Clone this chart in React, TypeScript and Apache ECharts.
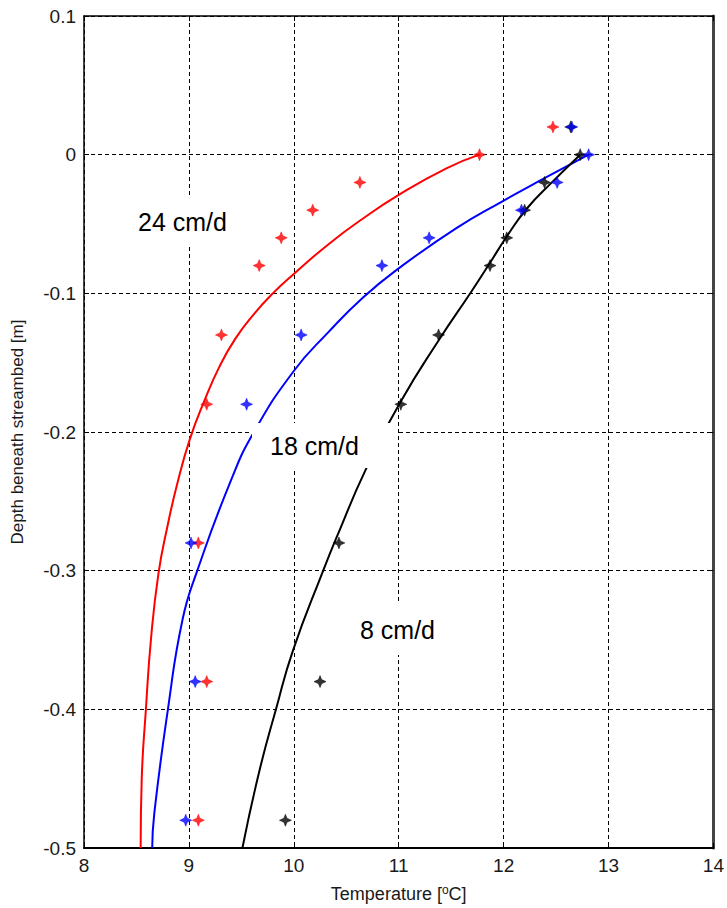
import React, { useEffect, useRef } from "react";
import * as echarts from "echarts";

// Observed depths (m) for the measured temperatures
const obsDepths = [0.02, 0, -0.02, -0.04, -0.06, -0.08, -0.13, -0.18, -0.28, -0.38, -0.48];
// Measured temperatures (°C) at those depths
const obs24 = [12.47, 11.77, 10.63, 10.18, 9.88, 9.67, 9.31, 9.17, 9.09, 9.17, 9.09];
const obs18 = [12.65, 12.81, 12.51, 12.17, 11.29, 10.84, 10.07, 9.55, 9.02, 9.06, 8.97];
const obs8 = [12.64, 12.73, 12.39, 12.2, 12.03, 11.87, 11.38, 11.02, 10.43, 10.25, 9.92];

// Model curves: [temperature, depth]
const curve24: [number, number][] = [
  [11.77, 0], [11.45, -0.01], [11.0, -0.029], [10.66, -0.046], [10.34, -0.064],
  [10.0, -0.086], [9.8, -0.1], [9.62, -0.115], [9.44, -0.133], [9.29, -0.153],
  [9.15, -0.177], [9.01, -0.205], [8.89, -0.237], [8.79, -0.27], [8.71, -0.302],
  [8.64, -0.348], [8.59, -0.4], [8.55, -0.451], [8.54, -0.5],
];
const curve18: [number, number][] = [
  [12.81, 0], [12.39, -0.017], [11.98, -0.034], [11.55, -0.053], [11.0, -0.082],
  [10.66, -0.103], [10.33, -0.128], [10.0, -0.156], [9.62, -0.2], [9.4, -0.235],
  [9.08, -0.3], [8.94, -0.335], [8.8, -0.4], [8.67, -0.475], [8.65, -0.5],
];
const curve8: [number, number][] = [
  [12.73, 0], [12.46, -0.02], [12.22, -0.039], [12.03, -0.059], [11.87, -0.078],
  [11.69, -0.099], [11.38, -0.134], [11.02, -0.178], [10.68, -0.228],
  [10.43, -0.272], [10.28, -0.3], [9.99, -0.358], [9.83, -0.4], [9.67, -0.445],
  [9.51, -0.5],
];

const curveLabels = ["24 cm/d", "18 cm/d", "8 cm/d"];
const colors = ["#ff0000", "#0000ff", "#000000"];

const STAR = "path://M5 0 L6.3 3.3 L10 5 L6.3 6.7 L5 10 L3.7 6.7 L0 5 L3.7 3.3 Z";

export default function App() {
  const ref = useRef<HTMLDivElement>(null);
  useEffect(() => {
    if (!ref.current) return;
    const chart = echarts.init(ref.current, null, { renderer: "svg" });
    const font = "'Liberation Sans', Arial, sans-serif";
    const gridLine = { show: true, lineStyle: { color: "#000", type: [4, 3] as any, width: 1 } };
    const pair = (xs: number[]) => xs.map((t, i) => [t, obsDepths[i]]);
    const lineSeries = (data: [number, number][], color: string) => ({
      type: "line",
      data,
      showSymbol: false,
      smooth: 0.5,
      lineStyle: { color, width: 2 },
      z: 2,
    });
    const scatterSeries = (data: number[][], color: string, z: number) => ({
      type: "scatter",
      data,
      symbol: STAR,
      symbolSize: 12,
      itemStyle: { color, borderColor: color, borderWidth: 0.6 },
      z,
    });
    chart.setOption({
      animation: false,
      backgroundColor: "#ffffff",
      grid: { left: 84, right: 11, top: 16, bottom: 60 },
      xAxis: [
        {
          type: "value",
          min: 8,
          max: 14,
          interval: 1,
          position: "bottom",
          axisLine: { show: true, onZero: false, lineStyle: { color: "#000", width: 2 } },
          axisTick: { show: true, inside: true, length: 5, lineStyle: { color: "#000" } },
          axisLabel: { color: "#1a1a1a", fontSize: 19, fontFamily: font, margin: 8 },
          splitLine: gridLine,
          name: "Temperature [{sup|o}C]",
          nameLocation: "middle",
          nameGap: 36,
          nameTextStyle: {
            color: "#1a1a1a",
            fontSize: 18,
            fontFamily: font,
            rich: {
              sup: { fontSize: 12, fontFamily: font, color: "#1a1a1a", verticalAlign: "top", padding: [0, 0, 8, 0] },
            },
          },
        },
        {
          type: "value",
          min: 8,
          max: 14,
          interval: 1,
          position: "top",
          axisLine: { show: true, onZero: false, lineStyle: { color: "#000", width: 1.5 } },
          axisTick: { show: true, inside: true, length: 5, lineStyle: { color: "#000" } },
          axisLabel: { show: false },
          splitLine: { show: false },
        },
      ],
      yAxis: [
        {
          type: "value",
          min: -0.5,
          max: 0.1,
          interval: 0.1,
          position: "left",
          axisLine: { show: true, onZero: false, lineStyle: { color: "#000", width: 1.5 } },
          axisTick: { show: true, inside: true, length: 5, lineStyle: { color: "#000" } },
          axisLabel: {
            color: "#1a1a1a",
            fontSize: 19,
            fontFamily: font,
            margin: 8,
            formatter: (v: number) => (Math.abs(v) < 1e-9 ? "0" : v.toFixed(1)),
          },
          splitLine: gridLine,
          name: "Depth beneath streambed [m]",
          nameLocation: "middle",
          nameRotate: 90,
          nameGap: 58,
          nameTextStyle: { color: "#1a1a1a", fontSize: 17, fontFamily: font },
        },
        {
          type: "value",
          min: -0.5,
          max: 0.1,
          interval: 0.1,
          position: "right",
          axisLine: { show: true, onZero: false, lineStyle: { color: "#444", width: 3 } },
          axisTick: { show: true, inside: true, length: 5, lineStyle: { color: "#000" } },
          axisLabel: { show: false },
          splitLine: { show: false },
        },
      ],
      series: [
        lineSeries(curve24, colors[0]),
        lineSeries(curve18, colors[1]),
        lineSeries(curve8, colors[2]),
        scatterSeries(pair(obs8), colors[2], 3),
        scatterSeries(pair(obs24), colors[0], 4),
        scatterSeries(pair(obs18), colors[1], 5),
      ],
      graphic: [
        {
          type: "text",
          left: 118,
          top: 196,
          z: 10,
          style: {
            text: curveLabels[0],
            fontSize: 25,
            fontFamily: font,
            fill: "#000",
            backgroundColor: "#fff",
            padding: [13, 20, 12, 20],
          },
        },
        {
          type: "text",
          left: 252,
          top: 423,
          z: 10,
          style: {
            text: curveLabels[1],
            fontSize: 25,
            fontFamily: font,
            fill: "#000",
            backgroundColor: "#fff",
            padding: [10, 38, 10, 18],
          },
        },
        {
          type: "text",
          left: 340,
          top: 604,
          z: 10,
          style: {
            text: curveLabels[2],
            fontSize: 25,
            fontFamily: font,
            fill: "#000",
            backgroundColor: "#fff",
            padding: [13, 30, 13, 20],
          },
        },
      ],
    });
    return () => chart.dispose();
  }, []);
  return (
    <div
      ref={ref}
      style={{ position: "fixed", left: 0, top: 0, width: 727, height: 908, background: "#fff" }}
    />
  );
}
